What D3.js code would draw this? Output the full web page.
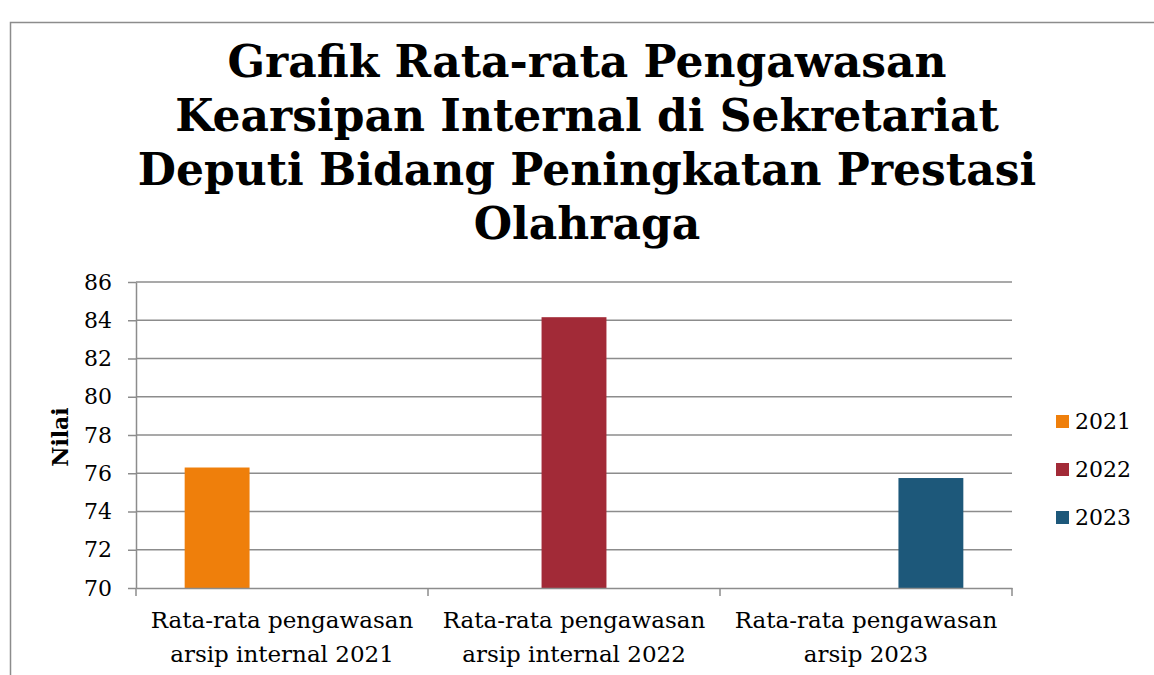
<!DOCTYPE html>
<html>
<head>
<meta charset="utf-8">
<script src="https://cdn.jsdelivr.net/npm/d3@7"></script>
<style>
  body { margin: 0; background: #fff; }
  text { font-family: "DejaVu Serif", Georgia, serif; }
</style>
</head>
<body>
<svg id="chart"></svg>
<script>
var WIDTH = 1154;
var HEIGHT = 675;
var MARGIN = { top: 282, right: 142, bottom: 87, left: 136 };

// data
var titleLines = ["Grafik Rata-rata Pengawasan", "Kearsipan Internal di Sekretariat",
                  "Deputi Bidang Peningkatan Prestasi", "Olahraga"];
var categories = ["Rata-rata pengawasan arsip internal 2021",
                  "Rata-rata pengawasan arsip internal 2022",
                  "Rata-rata pengawasan arsip 2023"];
var categoryLines = [["Rata-rata pengawasan", "arsip internal 2021"],
                     ["Rata-rata pengawasan", "arsip internal 2022"],
                     ["Rata-rata pengawasan", "arsip 2023"]];
var seriesNames = ["2021", "2022", "2023"];
var seriesColors = ["#ef7f0b", "#a22a37", "#1d587a"];
var values2021 = [76.3, null, null];
var values2022 = [null, 84.16, null];
var values2023 = [null, null, 75.75];
var yTicks = [70, 72, 74, 76, 78, 80, 82, 84, 86];

function main() {
    var svg = d3.select("#chart").attr("width", WIDTH).attr("height", HEIGHT);
    var width = WIDTH - MARGIN.left - MARGIN.right;
    var height = HEIGHT - MARGIN.top - MARGIN.bottom;

    // outer frame
    svg.append("path")
        .attr("d", "M10.5," + HEIGHT + "V22.5H" + WIDTH)
        .attr("fill", "none")
        .attr("stroke", "#8c8c8c")
        .attr("stroke-width", 1.5);

    // title
    var title = svg.append("text")
        .attr("text-anchor", "middle")
        .attr("font-size", 44)
        .attr("font-weight", "bold");
    title.selectAll("tspan")
        .data(titleLines)
        .enter().append("tspan")
        .attr("x", 587)
        .attr("y", function(d, i) { return 77 + i * 54; })
        .text(function(d) { return d; });

    var g = svg.append("g")
        .attr("transform", "translate(" + MARGIN.left + "," + MARGIN.top + ")");

    var x0 = d3.scaleBand().domain(categories).range([0, width]);
    var x1 = d3.scaleBand().domain(seriesNames).range([0, x0.bandwidth()])
        .paddingInner(0).paddingOuter(0.75);
    var y = d3.scaleLinear().domain([70, 86]).range([height, 0]);

    // gridlines
    g.append("g")
        .attr("class", "grid")
        .selectAll("line")
        .data(yTicks.slice(1))
        .enter().append("line")
        .attr("x1", 0)
        .attr("x2", width)
        .attr("y1", function(d) { return y(d); })
        .attr("y2", function(d) { return y(d); })
        .attr("stroke", "#8c8c8c")
        .attr("stroke-width", 1.5);

    // bars
    var series = [values2021, values2022, values2023];
    seriesNames.forEach(function(name, s) {
        var pts = categories.map(function(c, i) { return { cat: c, v: series[s][i] }; })
            .filter(function(d) { return d.v != null; });
        g.selectAll(".bar-" + name)
            .data(pts)
            .enter().append("rect")
            .attr("class", "bar-" + name)
            .attr("x", function(d) { return x0(d.cat) + x1(name); })
            .attr("width", x1.bandwidth())
            .attr("y", function(d) { return y(d.v); })
            .attr("height", function(d) { return height - y(d.v); })
            .attr("fill", seriesColors[s]);
    });

    // y axis
    var yAxis = g.append("g")
        .call(d3.axisLeft(y).tickValues(yTicks).tickSize(8).tickSizeOuter(0).tickPadding(16));
    yAxis.select(".domain").attr("stroke", "#8c8c8c").attr("stroke-width", 1.5);
    yAxis.selectAll(".tick line").attr("stroke", "#8c8c8c").attr("stroke-width", 1.5);
    yAxis.selectAll(".tick text")
        .attr("font-size", 22)
        .attr("fill", "#000")
        .attr("font-family", "'DejaVu Serif', Georgia, serif");

    // x axis
    var xAxis = g.append("g")
        .attr("transform", "translate(0," + height + ")")
        .call(d3.axisBottom(x0).tickSize(0).tickFormat(""));
    xAxis.select(".domain").attr("stroke", "#8c8c8c").attr("stroke-width", 1.5);
    xAxis.selectAll(".sep")
        .data([0, 1, 2, 3])
        .enter().append("line")
        .attr("class", "sep")
        .attr("x1", function(d) { return d * x0.step(); })
        .attr("x2", function(d) { return d * x0.step(); })
        .attr("y1", 0)
        .attr("y2", 8)
        .attr("stroke", "#8c8c8c")
        .attr("stroke-width", 1.5);

    var catText = xAxis.selectAll(".cat")
        .data(categories)
        .enter().append("text")
        .attr("class", "cat")
        .attr("text-anchor", "middle")
        .attr("font-size", 23)
        .attr("fill", "#000");
    catText.selectAll("tspan")
        .data(function(d, i) { return categoryLines[i].map(function(t) { return { cat: d, t: t }; }); })
        .enter().append("tspan")
        .attr("x", function(d) { return x0(d.cat) + x0.bandwidth() / 2; })
        .attr("y", function(d, i) { return 40 + i * 34; })
        .text(function(d) { return d.t; });

    // y axis title
    svg.append("text")
        .attr("transform", "translate(68,437) rotate(-90)")
        .attr("text-anchor", "middle")
        .attr("font-size", 22)
        .attr("font-weight", "bold")
        .text("Nilai");

    // legend
    var legend = svg.selectAll(".legend")
        .data(seriesNames)
        .enter().append("g")
        .attr("class", "legend")
        .attr("transform", function(d, i) { return "translate(1056," + (415 + i * 48) + ")"; });
    legend.append("rect")
        .attr("width", 13)
        .attr("height", 13)
        .attr("fill", function(d, i) { return seriesColors[i]; });
    legend.append("text")
        .attr("x", 19)
        .attr("y", 14)
        .attr("font-size", 22)
        .text(function(d) { return d; });
}

main();
</script>
</body>
</html>
